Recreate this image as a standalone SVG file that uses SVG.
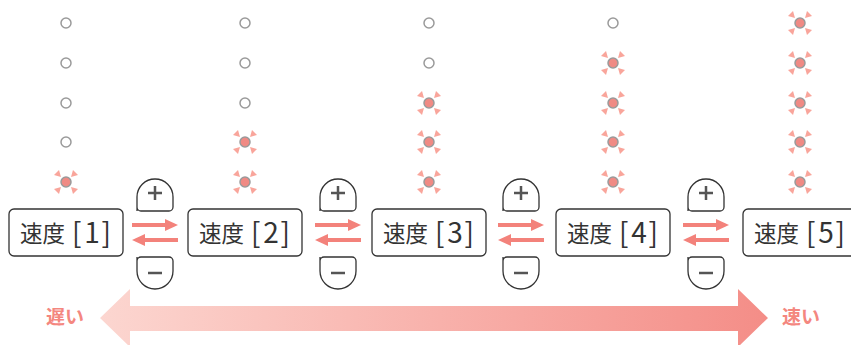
<svg xmlns="http://www.w3.org/2000/svg" width="851" height="345" viewBox="0 0 851 345">
<defs>
<linearGradient id="grad" x1="100" y1="0" x2="770" y2="0" gradientUnits="userSpaceOnUse">
<stop offset="0" stop-color="#fcd6d0"/>
<stop offset="1" stop-color="#f48d87"/>
</linearGradient>
<g id="spark">
<polygon points="-12,-7 -7,-12 -5,-5" class="tri"/>
<polygon points="12,-7 7,-12 5,-5" class="tri"/>
<polygon points="-12,7 -7,12 -5,5" class="tri"/>
<polygon points="12,7 7,12 5,5" class="tri"/>
<circle r="5" class="on"/>
</g>
<circle id="off" r="5" class="offc"/>
<g id="pair">
<line x1="132" y1="225" x2="168" y2="225" class="arr"/>
<polygon points="165,219 178,225 165,231" class="arrh"/>
<line x1="142" y1="240" x2="178" y2="240" class="arr"/>
<polygon points="145,234 132,240 145,246" class="arrh"/>
<path d="M137,211 V197 A18,18 0 0 1 173,197 V207 A4,4 0 0 1 169,211 H141 A4,4 0 0 1 137,207 Z" class="btn"/>
<path d="M148,193 H162 M155,186 V200" class="sign"/>
<path d="M137,257 V271 A18,18 0 0 0 173,271 V261 A4,4 0 0 0 169,257 H141 A4,4 0 0 0 137,261 Z" class="btn"/>
<path d="M148,273 H162" class="sign"/>
</g>
</defs>
<style>
.tri{fill:#f9a59b}
.on{fill:#f08a84;stroke:#9a9a9a;stroke-width:1.5}
.offc{fill:#fff;stroke:#9a9a9a;stroke-width:1.5}
.box{fill:#fff;stroke:#333;stroke-width:1.3}
.lbl{font-family:"Noto Sans CJK JP","Noto Sans",sans-serif;font-size:22.5px;fill:#333}
.num{font-family:"Noto Sans CJK JP","Noto Sans",sans-serif;font-size:28px;fill:#333}
.arr{stroke:#f3827b;stroke-width:4}
.arrh{fill:#f3827b}
.btn{fill:#fff;stroke:#333;stroke-width:1.3}
.sign{stroke:#555;stroke-width:2.5;fill:none}
.end{font-family:"Noto Sans CJK JP",sans-serif;font-size:19px;font-weight:bold;fill:#f4877f;text-anchor:middle}
</style>
<g id="dots">
<use href="#off" x="66" y="23"/><use href="#off" x="66" y="63"/><use href="#off" x="66" y="103"/><use href="#off" x="66" y="142"/><use href="#spark" x="66" y="182"/>
<use href="#off" x="245" y="23"/><use href="#off" x="245" y="63"/><use href="#off" x="245" y="103"/><use href="#spark" x="245" y="142"/><use href="#spark" x="245" y="182"/>
<use href="#off" x="429" y="23"/><use href="#off" x="429" y="63"/><use href="#spark" x="429" y="103"/><use href="#spark" x="429" y="142"/><use href="#spark" x="429" y="182"/>
<use href="#off" x="613" y="23"/><use href="#spark" x="613" y="63"/><use href="#spark" x="613" y="103"/><use href="#spark" x="613" y="142"/><use href="#spark" x="613" y="182"/>
<use href="#spark" x="800" y="23"/><use href="#spark" x="800" y="63"/><use href="#spark" x="800" y="103"/><use href="#spark" x="800" y="142"/><use href="#spark" x="800" y="182"/>
</g>
<g id="speed1"><rect x="9" y="209" width="114" height="47" rx="5" class="box"/><text x="20" y="242" class="lbl">速度</text><text y="243" class="num"><tspan x="72">[</tspan><tspan x="92" text-anchor="middle">1</tspan><tspan x="111" text-anchor="end">]</tspan></text></g>
<g id="speed2"><rect x="188" y="209" width="114" height="47" rx="5" class="box"/><text x="199" y="242" class="lbl">速度</text><text y="243" class="num"><tspan x="251">[</tspan><tspan x="271" text-anchor="middle">2</tspan><tspan x="290" text-anchor="end">]</tspan></text></g>
<g id="speed3"><rect x="372" y="209" width="114" height="47" rx="5" class="box"/><text x="383" y="242" class="lbl">速度</text><text y="243" class="num"><tspan x="435">[</tspan><tspan x="455" text-anchor="middle">3</tspan><tspan x="474" text-anchor="end">]</tspan></text></g>
<g id="speed4"><rect x="556" y="209" width="114" height="47" rx="5" class="box"/><text x="567" y="242" class="lbl">速度</text><text y="243" class="num"><tspan x="619">[</tspan><tspan x="639" text-anchor="middle">4</tspan><tspan x="658" text-anchor="end">]</tspan></text></g>
<g id="speed5"><rect x="743" y="209" width="114" height="47" rx="5" class="box"/><text x="754" y="242" class="lbl">速度</text><text y="243" class="num"><tspan x="806">[</tspan><tspan x="826" text-anchor="middle">5</tspan><tspan x="845" text-anchor="end">]</tspan></text></g>
<g id="connectors">
<use href="#pair"/>
<use href="#pair" x="183"/>
<use href="#pair" x="366"/>
<use href="#pair" x="551"/>
</g>
<g id="scale">
<polygon points="100,318 130,289 130,306 738,306 738,289 768,318 738,347 738,331 130,331 130,347" fill="url(#grad)"/>
<text x="65" y="324" class="end">遅い</text>
<text x="801" y="324" class="end">速い</text>
</g>
</svg>
